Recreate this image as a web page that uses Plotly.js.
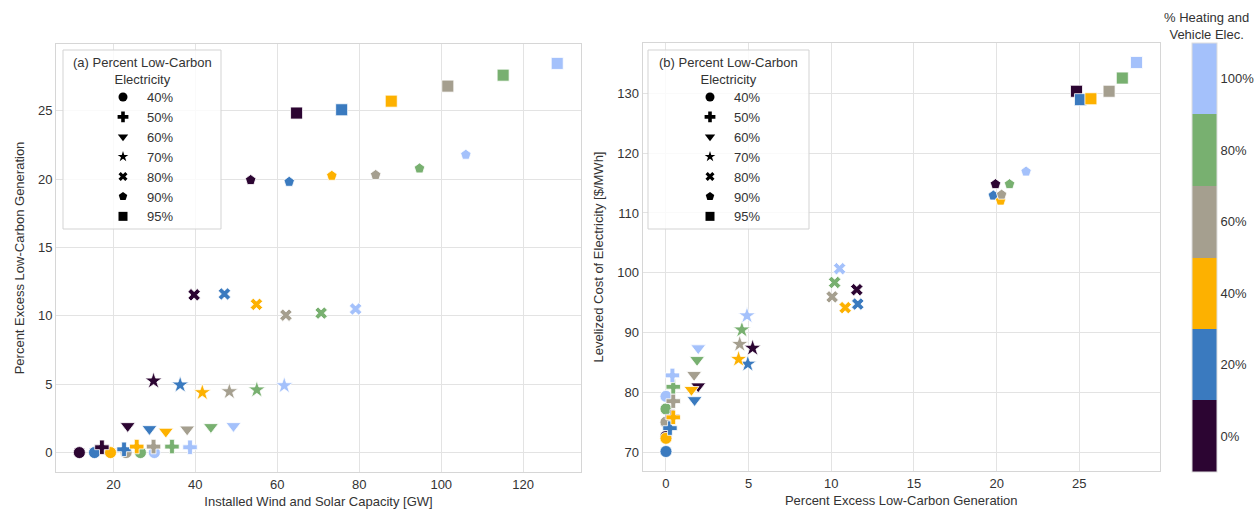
<!DOCTYPE html>
<html>
<head>
<meta charset="utf-8">
<script src="https://cdn.plot.ly/plotly-3.0.1.min.js"></script>
<style>html,body{margin:0;padding:0;background:#fff;}#chart{width:1260px;height:510px;}</style>
</head>
<body>
<div id="chart"></div>
<script>
// Heating and vehicle electrification levels (colour)
const heating = [0, 20, 40, 60, 80, 100];
const heatingLabels = ['0%', '20%', '40%', '60%', '80%', '100%'];
// Percent low-carbon electricity levels (marker shape)
const lowCarbon = ['40%', '50%', '60%', '70%', '80%', '90%', '95%'];

// Installed wind and solar capacity [GW], per low-carbon level, ordered by heating level
const cap40 = [11.7, 15.4, 19.3, 23.1, 26.6, 30.0];
const cap50 = [17.2, 22.6, 25.7, 29.8, 34.3, 38.7];
const cap60 = [23.5, 28.8, 32.8, 38.0, 43.8, 49.3];
const cap70 = [29.8, 36.3, 41.7, 48.3, 55.0, 61.7];
const cap80 = [39.7, 47.1, 54.9, 62.1, 70.7, 79.1];
const cap90 = [53.5, 62.9, 73.3, 84.0, 94.7, 106.0];
const cap95 = [64.7, 75.7, 87.8, 101.6, 115.1, 128.3];

// Percent excess low-carbon generation
const ex40 = [0.0, 0.0, 0.0, 0.0, 0.0, 0.0];
const ex50 = [0.39, 0.24, 0.44, 0.44, 0.44, 0.39];
const ex60 = [1.95, 1.73, 1.54, 1.70, 1.88, 1.95];
const ex70 = [5.24, 4.95, 4.39, 4.46, 4.59, 4.90];
const ex80 = [11.54, 11.60, 10.84, 10.05, 10.20, 10.50];
const ex90 = [19.93, 19.80, 20.24, 20.30, 20.78, 21.78];
const ex95 = [24.83, 25.07, 25.70, 26.80, 27.60, 28.46];

// Levelized cost of electricity [$/MWh]
const lc40 = [72.7, 70.2, 72.4, 75.1, 77.3, 79.4];
const lc50 = [76.0, 74.1, 75.9, 78.6, 81.0, 82.9];
const lc60 = [81.1, 78.8, 80.5, 83.0, 85.5, 87.45];
const lc70 = [87.45, 84.8, 85.6, 88.1, 90.5, 92.86];
const lc80 = [97.2, 94.8, 94.2, 96.0, 98.4, 100.7];
const lc90 = [114.8, 112.9, 112.05, 113.05, 114.8, 116.9];
const lc95 = [130.3, 128.9, 129.05, 130.3, 132.5, 135.1];

const capacity = [cap40, cap50, cap60, cap70, cap80, cap90, cap95];
const excess = [ex40, ex50, ex60, ex70, ex80, ex90, ex95];
const lcoe = [lc40, lc50, lc60, lc70, lc80, lc90, lc95];

// styles
const palette = ['#2c0532', '#3a7abf', '#fdb100', '#a59f8f', '#78b070', '#a4c1fb'];
const symbols = ['circle', 'cross', 'triangle-down', 'star', 'x', 'pentagon', 'square'];
const sizes = [12, 12, 13, 13, 11, 11, 12];
const legendSizes = [9, 9, 9, 8, 8, 9, 9];

const cs = [];
palette.forEach((c, i) => { cs.push([i / 6, c]); cs.push([(i + 1) / 6, c]); });

const W = 1260, H = 510;
const txt = '#333333';
const gridc = '#e3e3e3';
const linec = '#d6d6d6';

const traces = [];
for (let k = 0; k < lowCarbon.length; k++) {
  const mk = {
    symbol: symbols[k], size: sizes[k], color: heating,
    colorscale: cs, cmin: -10, cmax: 110,
    line: {color: 'white', width: 0.8}, opacity: 1
  };
  traces.push({type: 'scatter', mode: 'markers', x: capacity[k], y: excess[k],
    xaxis: 'x', yaxis: 'y', marker: mk, showlegend: false, hoverinfo: 'x+y'});
  const mk2 = Object.assign({}, mk);
  if (k === lowCarbon.length - 1) {
    mk2.showscale = true;
    mk2.colorbar = {
      x: 1192 / W, xanchor: 'left', xref: 'paper', xpad: 0,
      y: 1 - 257.5 / H, yanchor: 'middle', yref: 'paper', ypad: 0,
      thickness: 25, thicknessmode: 'pixels', len: 429, lenmode: 'pixels',
      outlinewidth: 1, outlinecolor: '#dddddd',
      tickmode: 'array', tickvals: heating, ticktext: heatingLabels,
      ticks: '', ticklabelpad: 4, tickfont: {size: 13, color: txt}
    };
  }
  traces.push({type: 'scatter', mode: 'markers', x: excess[k], y: lcoe[k],
    xaxis: 'x2', yaxis: 'y2', marker: mk2, showlegend: false, hoverinfo: 'x+y'});
}
// legend entries (black keys)
['legend', 'legend2'].forEach((lg, j) => {
  for (let k = 0; k < lowCarbon.length; k++) {
    traces.push({type: 'scatter', mode: 'markers', x: [null], y: [null],
      xaxis: j ? 'x2' : 'x', yaxis: j ? 'y2' : 'y', name: lowCarbon[k], legend: lg,
      marker: {symbol: symbols[k], size: legendSizes[k], color: '#000000'}, showlegend: true});
  }
});

const axisBase = {
  showgrid: true, gridcolor: gridc, gridwidth: 1, zeroline: false,
  showline: true, mirror: true, linecolor: linec, linewidth: 1,
  ticks: '', tickfont: {size: 13, color: txt}, automargin: false
};
const legBase = {
  bgcolor: 'rgba(0,0,0,0)', borderwidth: 0,
  font: {size: 13, color: txt}, itemsizing: 'trace', itemwidth: 38,
  xanchor: 'left', yanchor: 'top', tracegroupgap: 0
};

// legend boxes (pixel geometry of the two panels' legends)
const boxes = [[63, 50, 221, 229], [648, 50, 809, 229]];
const shapes = boxes.map(b => ({
  type: 'rect', xref: 'paper', yref: 'paper', layer: 'above',
  x0: b[0] / W, x1: b[2] / W, y0: 1 - b[3] / H, y1: 1 - b[1] / H,
  line: {color: '#d3d3d3', width: 1}, fillcolor: 'rgba(255,255,255,0.8)'
}));
const legTitles = ['(a) Percent Low-Carbon<br>Electricity', '(b) Percent Low-Carbon<br>Electricity'];

const annotations = boxes.map((b, i) => ({
  text: legTitles[i], xref: 'paper', yref: 'paper',
  x: (b[0] + b[2]) / 2 / W, y: 1 - 53 / H, xanchor: 'center', yanchor: 'top', align: 'center',
  showarrow: false, font: {size: 13, color: txt}
}));
annotations.push({
  text: '% Heating and<br>Vehicle Elec.', xref: 'paper', yref: 'paper',
  x: 1206 / W, y: 1 - 8 / H, xanchor: 'center', yanchor: 'top', align: 'center', showarrow: false,
  font: {size: 13, color: txt}
});

const layout = {
  width: W, height: H, margin: {l: 0, r: 0, t: 0, b: 0},
  paper_bgcolor: '#ffffff', plot_bgcolor: '#ffffff',
  font: {family: '"Liberation Sans", Arial, sans-serif', size: 13, color: txt},
  xaxis: Object.assign({}, axisBase, {domain: [56 / W, 581 / W], range: [6.0, 134.1],
    tick0: 0, dtick: 20, anchor: 'y',
    title: {text: 'Installed Wind and Solar Capacity [GW]', font: {size: 13, color: txt}, standoff: 6}}),
  yaxis: Object.assign({}, axisBase, {domain: [38 / H, 466 / H], range: [-1.42, 29.88],
    tick0: 0, dtick: 5, anchor: 'x',
    title: {text: 'Percent Excess Low-Carbon Generation', font: {size: 13, color: txt}, standoff: 10}}),
  xaxis2: Object.assign({}, axisBase, {domain: [642.5 / W, 1160 / W], range: [-1.42, 29.88],
    tick0: 0, dtick: 5, anchor: 'y2',
    title: {text: 'Percent Excess Low-Carbon Generation', font: {size: 13, color: txt}, standoff: 6}}),
  yaxis2: Object.assign({}, axisBase, {domain: [39 / H, 467 / H], range: [66.95, 138.35],
    tick0: 0, dtick: 10, anchor: 'x2',
    title: {text: 'Levelized Cost of Electricity [$/MWh]', font: {size: 13, color: txt}, standoff: 10}}),
  legend: Object.assign({}, legBase, {x: 99 / W, y: 1 - 82 / H}),
  legend2: Object.assign({}, legBase, {x: 686 / W, y: 1 - 82 / H}),
  shapes: shapes,
  annotations: annotations
};

Plotly.newPlot('chart', traces, layout, {displayModeBar: false, staticPlot: true});
</script>
</body>
</html>
